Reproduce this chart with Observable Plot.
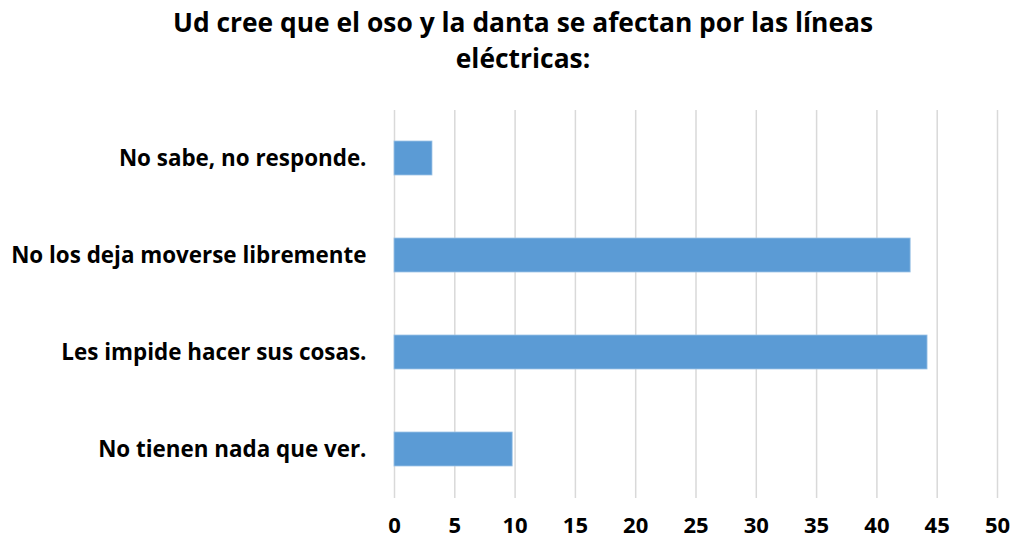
<!DOCTYPE html>
<html>
<head>
<meta charset="utf-8">
<script src="https://cdn.jsdelivr.net/npm/d3@7"></script>
<script src="https://cdn.jsdelivr.net/npm/@observablehq/plot@0.6"></script>
<style>
  html, body { margin: 0; padding: 0; background: #fff; }
  #title { position: absolute; left: 0; top: 0; width: 1046px; height: 90px; text-align: center;
    font-family: 'Open Sans', sans-serif; font-weight: 700; font-size: 26.4px; line-height: 36px; color: #000; padding-top: 4px; box-sizing: border-box; }
  #chart { position: absolute; left: 0; top: 90px; }
</style>
</head>
<body>
<div id="title">Ud cree que el oso y la danta se afectan por las líneas<br>eléctricas:</div>
<div id="chart"></div>
<script>
const categories = ["No sabe, no responde.", "No los deja moverse libremente", "Les impide hacer sus cosas.", "No tienen nada que ver."];
const values = [3.15, 42.8, 44.2, 9.8];
const xTicks = [0, 5, 10, 15, 20, 25, 30, 35, 40, 45, 50];

const data = categories.map((c, i) => ({category: c, value: values[i]}));

const chart = Plot.plot({
  width: 1014,
  height: 453,
  marginLeft: 394,
  marginRight: 17,
  marginTop: 20,
  marginBottom: 45,
  style: {fontFamily: "'Open Sans', sans-serif", fontWeight: 700, fontSize: "22px", color: "#000", background: "#fff"},
  x: {domain: [0, 50], ticks: xTicks, label: null},
  y: {domain: categories, paddingInner: 0.645, paddingOuter: 0.3225, label: null},
  marks: [
    Plot.gridX(xTicks, {stroke: "#d9d9d9", strokeOpacity: 1, strokeWidth: 1.5}),
    Plot.barX(data, {x: "value", y: "category", fill: "#5b9bd5", stroke: "#9dc3e6", strokeWidth: 0.8}),
    Plot.axisX(xTicks, {tickSize: 0, tickPadding: 19, fontSize: 22, fontWeight: 700}),
    Plot.axisY({tickSize: 0, tickPadding: 28, fontSize: 22.4, fontWeight: 700})
  ]
});
document.getElementById("chart").appendChild(chart);
</script>
</body>
</html>
